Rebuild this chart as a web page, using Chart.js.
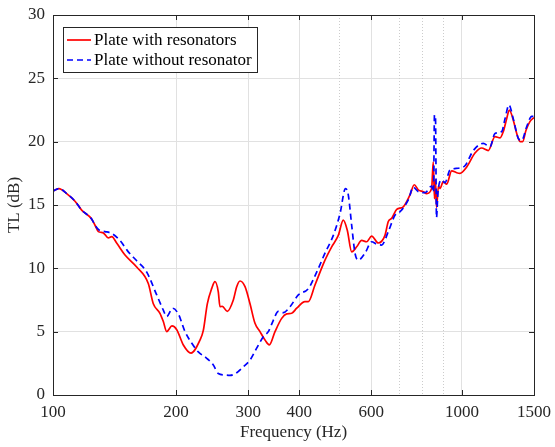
<!DOCTYPE html>
<html>
<head>
<meta charset="utf-8">
<title>Transmission loss</title>
<script src="https://cdn.jsdelivr.net/npm/chart.js@4.4.1/dist/chart.umd.min.js"></script>
<style>
  html, body { margin: 0; padding: 0; background: #fff; }
  #wrap { width: 555px; height: 447px; }
</style>
</head>
<body>
<div id="wrap"><canvas id="tlChart" width="555" height="447"></canvas></div>
<script>
// measured transmission loss, plate with resonators
const freqWith = [100, 103.4, 108, 113.2, 117.5, 124.3, 126.7, 129.1, 132.7, 136.5, 139.2, 143.1, 150, 160.2, 171,
  175.9, 182.6, 186.1, 189.7, 195.4, 200.7, 208.3, 217.5, 228.8, 233.1, 238.4, 244.3, 248.9, 253.6, 256, 259.4,
  266.8, 276, 281.3, 286.6, 294.8, 303.2, 311.8, 320.7, 329.9, 338, 349, 362.4, 372.8, 383.4, 394.4, 413.2, 421,
  437.1, 462.4, 480.2, 498.4, 512.6, 524.3, 537.4, 552.7, 568.5, 584.8, 601.4, 624.2, 648.2, 660.4, 673.2, 692.4,
  718.6, 746.2, 764.4, 781.9, 804.1, 819.6, 843, 850.6, 856.5, 861.3, 866.3, 876, 883.5, 900.1, 917.5, 943.5,
  970.5, 988.8, 1027, 1076, 1117, 1160, 1204, 1239, 1262, 1286, 1305, 1335, 1361, 1387, 1407, 1434, 1467, 1500];
const tlWith = [16.1, 16.3, 15.9, 15.3, 14.6, 13.9, 13.4, 12.9, 12.8, 12.4, 12.5, 12.0, 11.05, 10.1, 8.8,
  7.2, 6.45, 5.8, 5.0, 5.45, 5.15, 3.95, 3.3, 4.34, 5.1, 7.2, 8.4, 8.95, 8.15, 6.97, 7.0,
  6.6, 7.5, 8.55, 9.0, 8.55, 7.2, 5.66, 5.0, 4.34, 3.95, 5.0, 6.05, 6.4, 6.45, 6.85, 7.37, 7.37,
  8.68, 10.65, 11.7, 12.6, 13.8, 13.0, 11.3, 11.7, 12.2, 12.1, 12.55, 12.0, 12.6, 13.7, 13.95, 14.65,
  14.86, 15.8, 16.6, 16.2, 16.05, 15.9, 16.3, 18.4, 15.5, 17.0, 14.8, 16.5, 16.3, 16.85, 16.65, 17.7,
  17.55, 17.5, 18.0, 19.1, 19.5, 19.3, 20.4, 20.3, 20.8, 21.8, 22.5, 21.7, 20.65, 20.0, 20.0, 20.9, 21.6, 21.9];

// measured transmission loss, bare plate
const freqWithout = [100, 103.4, 108, 113.2, 117.5, 124.3, 126.7, 129.8, 134, 139.2, 145.8, 152.8, 160.2, 169.5,
  179.3, 186.1, 189.7, 196.1, 202.5, 210.3, 218.3, 226.6, 237.6, 246.6, 253.6, 263.4, 270.9, 281.3, 292, 303.2,
  314.8, 326.8, 336.1, 345.7, 355.6, 365.8, 379.8, 398, 421, 441.3, 462.4, 484.6, 503.1, 519, 527.2, 537.4,
  547.5, 557.8, 579.3, 601.4, 618.5, 636.2, 660.4, 685.9, 705.4, 739.1, 760, 781.9, 811.9, 843, 852, 856.5,
  861.3, 866.3, 873.5, 891.9, 908.8, 934.7, 979.4, 1017, 1066, 1127, 1171, 1204, 1251, 1274, 1303, 1335, 1374,
  1400, 1440, 1481, 1500];
const tlWithout = [16.1, 16.3, 15.9, 15.3, 14.6, 13.9, 13.4, 13.0, 12.9, 12.75, 12.2, 11.3, 10.6, 9.7,
  7.9, 6.7, 6.2, 6.85, 6.4, 5.0, 4.1, 3.4, 2.9, 2.37, 1.7, 1.58, 1.55, 1.76, 2.23, 2.76,
  3.7, 4.6, 5.0, 5.9, 6.6, 6.5, 6.97, 7.9, 8.4, 9.7, 11.2, 12.6, 14.3, 16.3, 15.8, 13.4,
  11.2, 10.65, 11.2, 12.1, 11.9, 11.84, 12.9, 14.2, 14.47, 15.4, 16.4, 16.05, 15.97, 16.5, 16.0, 22.1,
  22.0, 14.0, 16.0, 16.97, 16.76, 17.76, 17.9, 18.1, 19.3, 19.86, 19.6, 20.65, 20.8, 21.8, 22.9, 21.8, 20.25,
  20.1, 21.2, 22.0, 22.0];

const seriesLabels = ['Plate with resonators', 'Plate without resonator'];
const xTickValues = [100, 200, 300, 400, 600, 1000, 1500];
const xMinorValues = [500, 700, 800, 900];
const yTickValues = [0, 5, 10, 15, 20, 25, 30];

const AXIS_COLOR = '#262626';
const GRID_COLOR = '#e1e1e1';
const FONT_FAMILY = '"Liberation Serif", "Times New Roman", serif';
const FONT_SIZE = 17;

Chart.defaults.font.family = FONT_FAMILY;
Chart.defaults.font.size = FONT_SIZE;
Chart.defaults.color = AXIS_COLOR;

function toPoints(xs, ys) {
  return xs.map((x, i) => ({ x: x, y: ys[i] }));
}

// dotted minor grid, then the box with inward tick marks
const axesBox = {
  id: 'axesBox',
  beforeDatasetsDraw(chart) {
    const { ctx, chartArea } = chart;
    const xs = chart.scales.x;
    ctx.save();
    ctx.strokeStyle = '#cccccc';
    ctx.lineWidth = 1;
    ctx.setLineDash([1, 2]);
    xMinorValues.forEach(v => {
      const px = Math.round(xs.getPixelForValue(v)) + 0.5;
      ctx.beginPath();
      ctx.moveTo(px, chartArea.top);
      ctx.lineTo(px, chartArea.bottom);
      ctx.stroke();
    });
    ctx.restore();
  },
  afterDatasetsDraw(chart) {
    const { ctx, chartArea } = chart;
    const { left, right, top, bottom } = chartArea;
    const xs = chart.scales.x;
    const ys = chart.scales.y;
    const tick = 5;
    ctx.save();
    ctx.strokeStyle = AXIS_COLOR;
    ctx.lineWidth = 1;
    ctx.beginPath();
    xTickValues.forEach(v => {
      const px = Math.round(xs.getPixelForValue(v)) + 0.5;
      ctx.moveTo(px, bottom);
      ctx.lineTo(px, bottom - tick);
      ctx.moveTo(px, top);
      ctx.lineTo(px, top + tick);
    });
    yTickValues.forEach(v => {
      const py = Math.round(ys.getPixelForValue(v)) + 0.5;
      ctx.moveTo(left, py);
      ctx.lineTo(left + tick, py);
      ctx.moveTo(right, py);
      ctx.lineTo(right - tick, py);
    });
    ctx.stroke();
    ctx.strokeRect(Math.round(left) + 0.5, Math.round(top) + 0.5,
      Math.round(right - left), Math.round(bottom - top));
    ctx.restore();
  }
};

// legend box in the upper left corner of the plot
const insideLegend = {
  id: 'insideLegend',
  afterDraw(chart) {
    const { ctx, chartArea } = chart;
    const x0 = Math.round(chartArea.left) + 10;
    const y0 = Math.round(chartArea.top) + 12;
    const w = 194, h = 45;
    ctx.save();
    ctx.fillStyle = '#fff';
    ctx.fillRect(x0, y0, w, h);
    ctx.strokeStyle = AXIS_COLOR;
    ctx.lineWidth = 1;
    ctx.strokeRect(x0 + 0.5, y0 + 0.5, w, h);
    ctx.font = FONT_SIZE + 'px ' + FONT_FAMILY;
    ctx.textBaseline = 'middle';
    chart.data.datasets.forEach((ds, i) => {
      const y = y0 + 13 + i * 20;
      ctx.strokeStyle = ds.borderColor;
      ctx.lineWidth = ds.borderWidth;
      ctx.setLineDash(ds.borderDash || []);
      ctx.beginPath();
      ctx.moveTo(x0 + 4, y);
      ctx.lineTo(x0 + 28, y);
      ctx.stroke();
      ctx.setLineDash([]);
      ctx.fillStyle = '#000';
      ctx.fillText(ds.label, x0 + 31, y + 1);
    });
    ctx.restore();
  }
};

const chart = new Chart(document.getElementById('tlChart'), {
  type: 'line',
  data: {
    datasets: [
      {
        label: seriesLabels[0],
        data: toPoints(freqWith, tlWith),
        borderColor: '#ff0000',
        borderWidth: 1.7,
        pointRadius: 0,
        cubicInterpolationMode: 'monotone',
        order: 2
      },
      {
        label: seriesLabels[1],
        data: toPoints(freqWithout, tlWithout),
        borderColor: '#0000ff',
        borderWidth: 1.7,
        borderDash: [6, 4],
        pointRadius: 0,
        cubicInterpolationMode: 'monotone',
        order: 1
      }
    ]
  },
  options: {
    responsive: false,
    animation: false,
    devicePixelRatio: 1,
    layout: { padding: { top: 15, right: 21, left: 0, bottom: 0 } },
    plugins: {
      legend: { display: false },
      tooltip: { enabled: false }
    },
    scales: {
      x: {
        type: 'logarithmic',
        min: 100,
        max: 1500,
        afterBuildTicks: scale => { scale.ticks = xTickValues.map(v => ({ value: v })); },
        afterFit: scale => {
          scale.height = 52;
          // end labels may overhang; the layout padding already leaves room
          scale.paddingLeft = 0;
          scale.paddingRight = 0;
        },
        ticks: {
          autoSkip: false,
          maxRotation: 0,
          padding: 7,
          callback: v => String(v)
        },
        grid: { color: GRID_COLOR, drawTicks: false },
        border: { display: false },
        title: { display: true, text: 'Frequency (Hz)', padding: { bottom: 4, top: 0 } }
      },
      y: {
        min: 0,
        max: 30,
        afterBuildTicks: scale => { scale.ticks = yTickValues.map(v => ({ value: v })); },
        afterFit: scale => {
          scale.width = 53;
          scale.paddingTop = 0;
          scale.paddingBottom = 0;
        },
        ticks: { padding: 8 },
        grid: { color: GRID_COLOR, drawTicks: false },
        border: { display: false },
        title: { display: true, text: 'TL (dB)', padding: { top: 4, bottom: 0 } }
      }
    }
  },
  plugins: [axesBox, insideLegend]
});
</script>
</body>
</html>
